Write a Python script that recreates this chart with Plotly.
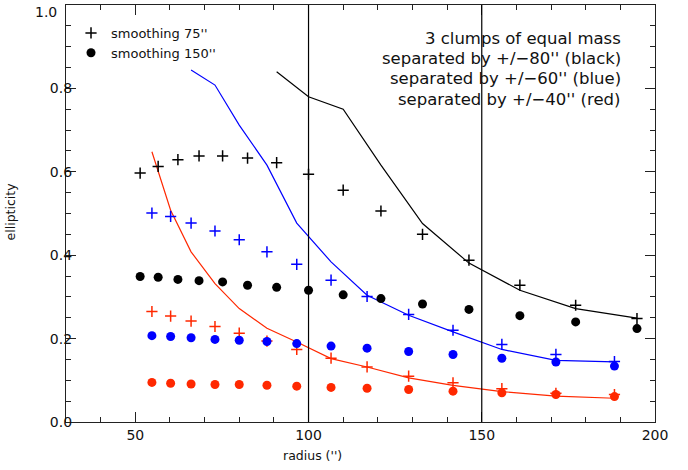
import plotly.graph_objects as go

# radii (arcsec)
r_black = [51.4, 56.6, 62.3, 68.4, 75.2, 82.4, 90.8, 100.0, 110.0, 120.9, 132.9, 146.3, 161.0, 177.1, 194.8]
r_col = [54.8, 60.2, 66.1, 73.0, 80.0, 88.0, 96.6, 106.5, 116.9, 128.9, 141.7, 155.8, 171.4, 188.3]

# black: separated by +/-80''
black_75 = [0.597, 0.613, 0.629, 0.638, 0.638, 0.633, 0.622, 0.594, 0.556, 0.506, 0.450, 0.388, 0.328, 0.280, 0.248]
black_150 = [0.349, 0.347, 0.342, 0.339, 0.336, 0.328, 0.323, 0.316, 0.305, 0.296, 0.283, 0.270, 0.255, 0.240, 0.224]
black_line_r = [90.8, 100.0, 110.0, 120.9, 132.9, 146.3, 161.0, 177.1, 194.8]
black_line_e = [0.840, 0.780, 0.750, 0.616, 0.476, 0.381, 0.316, 0.272, 0.249]

# blue: separated by +/-60''
blue_75 = [0.501, 0.493, 0.477, 0.458, 0.437, 0.408, 0.378, 0.340, 0.301, 0.258, 0.220, 0.186, 0.162, 0.145]
blue_150 = [0.207, 0.205, 0.202, 0.198, 0.196, 0.193, 0.188, 0.182, 0.177, 0.169, 0.162, 0.153, 0.144, 0.134]
blue_line_r = [66.1, 73.0, 80.0, 88.0, 96.6, 106.5, 116.9, 128.9, 141.7, 155.8, 171.4, 188.3]
blue_line_e = [0.844, 0.808, 0.712, 0.616, 0.477, 0.384, 0.304, 0.256, 0.216, 0.174, 0.148, 0.144]

# red: separated by +/-40''
red_75 = [0.265, 0.254, 0.242, 0.229, 0.213, 0.194, 0.174, 0.153, 0.132, 0.110, 0.094, 0.080, 0.069, 0.066]
red_150 = [0.095, 0.093, 0.091, 0.090, 0.090, 0.088, 0.086, 0.083, 0.081, 0.078, 0.074, 0.070, 0.066, 0.061]
red_line_r = r_col
red_line_e = [0.648, 0.508, 0.408, 0.332, 0.272, 0.225, 0.192, 0.152, 0.132, 0.106, 0.088, 0.073, 0.062, 0.057]

vlines = [100, 150]
x_ticks = [50, 100, 150, 200]
y_ticks = [0.0, 0.2, 0.4, 0.6, 0.8, 1.0]
y_ticklabels = ["0.0", "0.2", "0.4", "0.6", "0.8", "1.0"]

info_lines = ["3 clumps of equal mass",
              "separated by +/\u221280'' (black)",
              "separated by +/\u221260'' (blue)",
              "separated by +/\u221240'' (red)"]

BLACK = "#000000"
BLUE = "#0000ff"
RED = "#ff2800"
FONT = "DejaVu Sans"
TXT = "#111111"

fig = go.Figure()

def add_set(rp, e75, rc, e150, lr, le, color, legend=False):
    fig.add_trace(go.Scatter(x=lr, y=le, mode="lines", line=dict(color=color, width=1.2),
                             showlegend=False, hoverinfo="skip"))
    fig.add_trace(go.Scatter(x=rp, y=e75, mode="markers", name="smoothing 75''",
                             marker=dict(symbol="cross-thin", size=8, line=dict(color=color, width=1.5)),
                             showlegend=legend))
    fig.add_trace(go.Scatter(x=rc, y=e150, mode="markers", name="smoothing 150''",
                             marker=dict(symbol="circle", size=9, color=color, line=dict(width=0)),
                             showlegend=legend))

add_set(r_col, red_75, r_col, red_150, red_line_r, red_line_e, RED)
add_set(r_col, blue_75, r_col, blue_150, blue_line_r, blue_line_e, BLUE)
add_set(r_black, black_75, r_black, black_150, black_line_r, black_line_e, BLACK, legend=True)

for v in vlines:
    fig.add_shape(type="line", xref="x", yref="paper", x0=v, x1=v, y0=0, y1=1,
                  line=dict(color="black", width=1.2))

axis_common = dict(showline=True, linecolor="#222222", linewidth=1.2, mirror="allticks",
                   ticks="inside", tickcolor="#222222", ticklen=10, tickwidth=1,
                   showgrid=False, zeroline=False, automargin=False,
                   tickfont=dict(family=FONT, size=14, color=TXT))

fig.update_xaxes(range=[30, 200], tickvals=x_ticks, ticktext=[str(t) for t in x_ticks],
                 minor=dict(dtick=10, tick0=0, ticks="inside", ticklen=5, tickcolor="#222222", tickwidth=1),
                 **axis_common)
# the top label (1.0) sits at the very edge of the figure; draw it as an annotation nudged inside
fig.update_yaxes(range=[0, 1.0], tickvals=y_ticks, ticktext=y_ticklabels[:-1] + [""],
                 ticklabelstandoff=-10,
                 minor=dict(dtick=0.05, tick0=0, ticks="inside", ticklen=5, tickcolor="#222222", tickwidth=1),
                 **axis_common)
fig.add_annotation(xref="paper", yref="y", x=0, y=y_ticks[-1], xanchor="right", yanchor="top",
                   xshift=-7, yshift=3, showarrow=False, text=y_ticklabels[-1],
                   font=dict(family=FONT, size=14, color=TXT))

fig.add_annotation(xref="paper", yref="paper", x=0.418, y=-0.08, yanchor="middle", xanchor="center",
                   text="radius ('')", showarrow=False, font=dict(family=FONT, size=12.5, color=TXT))
fig.add_annotation(xref="paper", yref="paper", x=-0.095, y=0.505, textangle=-90,
                   xanchor="center", yanchor="middle",
                   text="ellipticity", showarrow=False, font=dict(family=FONT, size=12.5, color=TXT))

# info block: one annotation per line, 20 px apart
PLOT_H = 470 - 5 - 48
for i, line in enumerate(info_lines):
    yc = 38.5 + 20.2 * i  # pixel centre from top of figure
    fig.add_annotation(xref="paper", yref="paper", x=(623 - 66) / (688 - 66 - 33),
                       y=1 - (yc - 5) / PLOT_H, xanchor="right", yanchor="middle",
                       showarrow=False, text=line,
                       font=dict(family=FONT, size=16.5, color=TXT))

fig.update_layout(
    template="none",
    width=688, height=470,
    margin=dict(l=66, r=33, t=5, b=48, autoexpand=False),
    paper_bgcolor="white", plot_bgcolor="white",
    showlegend=True,
    legend=dict(x=0.0085, y=0.969, xanchor="left", yanchor="top", bgcolor="rgba(0,0,0,0)",
                font=dict(family=FONT, size=13, color=TXT), itemwidth=30,
                tracegroupgap=0, traceorder="normal"),
)

fig.write_html("out.html", config={"displayModeBar": False},
               post_script="document.body.style.margin='0';")
